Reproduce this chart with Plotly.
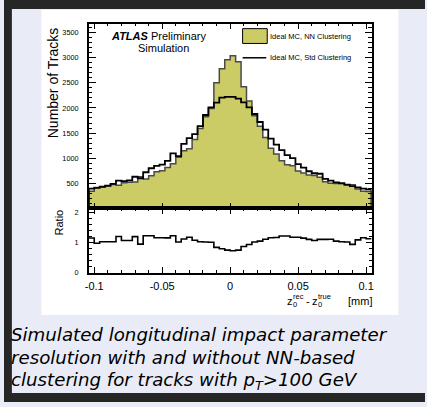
import numpy as np
import plotly.graph_objects as go

# ---------------- data ----------------
bin_low, bin_high, n_bins = -0.104, 0.104, 52
nn_clustering = [343, 418, 422, 442, 476, 462, 509, 523, 525, 632, 585, 650, 728, 750, 815, 890,
                 1020, 1147, 1186, 1370, 1592, 1824, 1990, 2500, 2780, 2960, 3040, 2920, 2420,
                 2140, 1843, 1638, 1414, 1198, 1085, 951, 869, 847, 746, 704, 667, 654, 622, 532,
                 500, 495, 490, 466, 473, 385, 340, 336]
std_clustering = [395, 410, 435, 455, 490, 555, 545, 560, 630, 600, 720, 800, 845, 870, 945, 1095,
                  1040, 1285, 1400, 1480, 1640, 1860, 2010, 2105, 2205, 2220, 2220, 2185, 2110,
                  2010, 1880, 1720, 1570, 1390, 1270, 1160, 1060, 1000, 880, 810, 740, 700, 690,
                  590, 555, 520, 505, 475, 445, 420, 395, 380]
x_tick_vals = [-0.1, -0.05, 0, 0.05, 0.1]
x_tick_text = ["-0.1", "-0.05", "0", "0.05", "0.1"]
y_tick_vals = [500, 1000, 1500, 2000, 2500, 3000, 3500]
ratio_tick_vals = [0, 1, 2]
legend_labels = ["Ideal MC, NN Clustering", "Ideal MC, Std Clustering"]
caption = ["Simulated longitudinal impact parameter",
           "resolution with and without NN-based",
           "clustering for tracks with <i>p</i><sub>T</sub>>100 GeV"]

edges = np.linspace(bin_low, bin_high, n_bins + 1)
nn = np.array(nn_clustering, float)
sd = np.array(std_clustering, float)
ratio = sd / nn


def step(vals):
    xs = list(edges[:1]) + list(edges) + [edges[-1]]
    ys = [0] + list(vals) + [vals[-1], 0]
    return xs, ys


W, H = 427, 407
def px(x): return x / W
def py(y): return 1 - y / H

OLIVE = "#CCCC66"
LAV = "#E9ECF7"
DARK = "#262626"
FONT = "Liberation Sans, Arial, Helvetica, sans-serif"

fig = go.Figure()
xs, ys = step(nn)
fig.add_trace(go.Scatter(x=xs, y=ys, mode="lines", line=dict(shape="hv", color="#4a4a4a", width=1.5),
                         fill="tozeroy", fillcolor=OLIVE, xaxis="x", yaxis="y", hoverinfo="skip"))
xs, ys = step(sd)
fig.add_trace(go.Scatter(x=xs, y=ys, mode="lines", line=dict(shape="hv", color="black", width=1.8),
                         xaxis="x", yaxis="y", hoverinfo="skip"))
rx = list(edges)
ry = list(ratio) + [ratio[-1]]
fig.add_trace(go.Scatter(x=rx, y=ry, mode="lines", line=dict(shape="hv", color="black", width=1.6),
                         xaxis="x2", yaxis="y2", hoverinfo="skip"))

xdom = [px(86), px(372.8)]
common_x = dict(domain=xdom, range=[bin_low, bin_high], showline=True, linecolor="black", linewidth=1.5,
                mirror="allticks", ticks="inside", ticklen=6, tickcolor="black", tickwidth=1,
                tickvals=x_tick_vals, ticktext=x_tick_text, showgrid=False, zeroline=False,
                minor=dict(ticks="inside", ticklen=3, dtick=0.01, tick0=0, tickcolor="black", showgrid=False))
common_y = dict(showline=True, linecolor="black", linewidth=1.5, mirror="allticks", ticks="inside",
                tickcolor="black", tickwidth=1, showgrid=False, zeroline=False,
                tickfont=dict(family=FONT, size=7.3, color="black"), ticklabelstandoff=7)

fig.update_layout(
    width=W, height=H, autosize=False, margin=dict(l=0, r=0, t=0, b=0),
    paper_bgcolor=LAV, plot_bgcolor="white", showlegend=False,
    xaxis=dict(**common_x, anchor="y", showticklabels=False),
    yaxis=dict(**common_y, domain=[py(211), py(24)], range=[0, 3677], tickvals=y_tick_vals, ticklen=7,
               minor=dict(ticks="inside", ticklen=3.5, dtick=100, tick0=0, tickcolor="black", showgrid=False)),
    xaxis2=dict(**common_x, anchor="y2", matches="x", showticklabels=True,
                tickfont=dict(family=FONT, size=11, color="black"), ticklabelstandoff=2),
    yaxis2=dict(**common_y, domain=[py(276), py(211)], range=[0, 2.14], tickvals=ratio_tick_vals, ticklen=6,
                minor=dict(ticks="inside", ticklen=3, dtick=0.2, tick0=0, tickcolor="black", showgrid=False)),
)

shapes = [
    dict(type="rect", xref="paper", yref="paper", x0=px(38), x1=px(400), y0=py(319), y1=py(10),
         fillcolor="white", line=dict(width=0), layer="below"),
    dict(type="rect", xref="paper", yref="paper", x0=0, x1=px(8), y0=0, y1=1,
         fillcolor=DARK, line=dict(width=0), layer="below"),
    dict(type="rect", xref="paper", yref="paper", x0=0, x1=1, y0=py(9), y1=1,
         fillcolor=DARK, line=dict(width=0), layer="below"),
    dict(type="rect", xref="paper", yref="paper", x0=0, x1=1, y0=0, y1=py(398),
         fillcolor=DARK, line=dict(width=0), layer="below"),
    # legend symbols
    dict(type="rect", xref="paper", yref="paper", x0=px(242), x1=px(267), y0=py(44), y1=py(29),
         fillcolor=OLIVE, line=dict(color="black", width=1)),
    dict(type="line", xref="paper", yref="paper", x0=px(242), x1=px(266), y0=py(58.5), y1=py(58.5),
         line=dict(color="black", width=1.5)),
]
fig.update_layout(shapes=shapes)

ann = []
def A(text, x, y, size, xanchor="left", angle=0, family=FONT, yanchor="middle"):
    ann.append(dict(text=text, x=px(x), y=py(y), xref="paper", yref="paper", showarrow=False,
                    xanchor=xanchor, yanchor=yanchor, textangle=angle, borderpad=0,
                    font=dict(family=family, size=size, color="black")))

A(legend_labels[0], 269, 36.5, 7.5)
A(legend_labels[1], 269, 58.5, 7.5)
A("<b><i>ATLAS</i></b> Preliminary", 108, 36, 11)
A("Simulation", 162, 48.5, 11, xanchor="center")
A("Number of Tracks", 50, 84, 14, xanchor="center", angle=-90)
A("Ratio", 56, 225, 11, xanchor="center", angle=-90)
# x axis title z0^rec - z0^true [mm]
A("z", 286.5, 305, 11)
A("rec", 292.5, 300.5, 7.5)
A("0", 292.5, 308.5, 7.5)
A("-", 305.5, 305, 11)
A("z", 311.5, 305, 11)
A("true", 317.5, 300.5, 7.5)
A("0", 317.5, 308.5, 7.5)
A("[mm]", 374, 305, 11, xanchor="right")
CAP = "DejaVu Sans, Noto Sans, sans-serif"
for i, line in enumerate(caption):
    A("<i>" + line + "</i>", 6, 339 + 23.3 * i, 18.2, family=CAP)
fig.update_layout(annotations=ann)

fig.write_html("out.html", config={"displayModeBar": False},
               post_script=("var d=document.documentElement,b=document.body;"
                            "d.style.margin='0';d.style.overflow='hidden';d.style.background='" + LAV + "';"
                            "b.style.margin='0';b.style.overflow='hidden';b.style.background='" + LAV + "';"))
